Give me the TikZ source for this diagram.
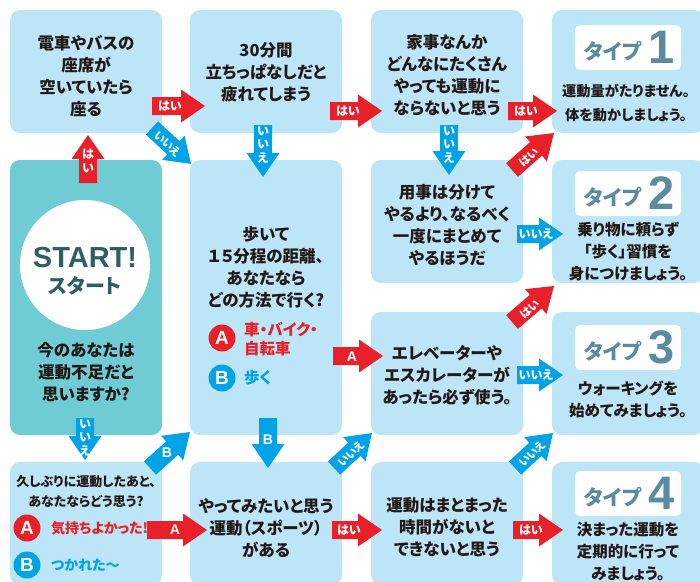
\documentclass[tikz,border=0pt]{standalone}
\usepackage{fontspec}
\newfontfamily\jp{Noto Sans CJK JP}[RawFeature=+palt]
\newfontfamily\lsans{Liberation Sans}
\definecolor{boxblue}{HTML}{BDE5F8}
\definecolor{startteal}{HTML}{6FCBD4}
\definecolor{ared}{HTML}{E8202A}
\definecolor{ablue}{HTML}{00A3E6}
\definecolor{ink}{HTML}{231815}
\definecolor{typeblue}{HTML}{5B8B9F}
\definecolor{startink}{HTML}{2D5F63}
\newcommand\blk[5]{%
  \pgfmathsetmacro\aang{atan2(-((#5)-(#3)),(#4)-(#2))}%
  \pgfmathsetmacro\alen{veclen((#4)-(#2),(#5)-(#3))}%
  \pgfmathsetmacro\abase{\alen-24}%
  \fill[#1, shift={(#2,#3)}, rotate=\aang] (0,-9) -- (\abase,-9) -- (\abase,-16.5) -- (\alen,0) -- (\abase,16.5) -- (\abase,9) -- (0,9) -- cycle;}
\tikzset{
  box/.style={fill=boxblue, rounded corners=10pt, minimum width=152pt, minimum height=123pt, inner sep=0pt},
  q/.style={font=\jp\bfseries\fontsize{16.5}{22}\selectfont, text=ink, align=center, inner sep=0pt},
  tt/.style={font=\jp\bfseries\fontsize{15.5}{22}\selectfont, text=ink, align=center, inner sep=0pt},
  lbl/.style={fill=white, rounded corners=5pt, minimum width=106pt, minimum height=45pt, inner sep=0pt},
  tword/.style={font=\jp\bfseries\fontsize{21}{21}\selectfont, text=typeblue, inner sep=0pt},
  tnum/.style={font=\lsans\bfseries\fontsize{47}{47}\selectfont, text=typeblue, inner sep=0pt},
  atxt/.style={font=\jp\bfseries\fontsize{12}{13.5}\selectfont, text=white, inner sep=0pt, align=center},
  dtxt/.style={font=\jp\bfseries\fontsize{11}{11}\selectfont, text=white, inner sep=0pt},
  aletter/.style={font=\lsans\bfseries\fontsize{14}{14}\selectfont, text=white, inner sep=0pt},
  opt/.style={circle, minimum size=27pt, inner sep=0pt, text=white, font=\lsans\bfseries\fontsize{19}{19}\selectfont},
}
\newcommand\typelabel[3]{%
  \node[lbl] (#3) at (628,#1) {};
  \node[tword] at (613,#1+3.5) {タイプ};
  \node[tnum] at (662,#1) {#2};}
\begin{document}
\begin{tikzpicture}[x=1pt,y=-1pt]
\useasboundingbox (0,0) rectangle (700,581);
\clip (0,0) rectangle (700,581);
% boxes
\node[box] (b11) at (86,71.5) {};
\node[box] (b12) at (266,71.5) {};
\node[box] (b13) at (447,71.5) {};
\node[box] (b14) at (628,71.5) {};
\node[box, fill=startteal, minimum height=275pt] (start) at (86,297.5) {};
\node[box, minimum height=275pt] (b22) at (266,297.5) {};
\node[box] (b23) at (447,221.5) {};
\node[box] (b24) at (628,221.5) {};
\node[box] (b33) at (447,373.5) {};
\node[box] (b34) at (628,373.5) {};
\node[box] (b41) at (86,523.5) {};
\node[box] (b42) at (266,523.5) {};
\node[box] (b43) at (447,523.5) {};
\node[box] (b44) at (628,523.5) {};
% start circle
\node[circle, fill=white, minimum size=130pt, inner sep=0pt] (sc) at (85,265) {};
\node[font=\lsans\bfseries\fontsize{29}{29}\selectfont, text=startink, inner sep=0pt] at (85,258) {START!};
\node[font=\jp\bfseries\fontsize{20}{20}\selectfont, text=startink, inner sep=0pt] at (85,286) {スタート};
\node[q] at (86,372) {今のあなたは\\運動不足だと\\思いますか?};
% question texts
\node[q] at (86,76) {電車やバスの\\座席が\\空いていたら\\座る};
\node[q] at (266,72.5) {30分間\\立ちっぱなしだと\\疲れてしまう};
\node[q] at (447,75) {家事なんか\\どんなにたくさん\\やっても運動に\\ならないと思う};
\node[q] at (447,225) {用事は分けて\\やるより、なるべく\\一度にまとめて\\やるほうだ};
\node[q] at (447,375) {エレベーターや\\エスカレーターが\\あったら必ず使う。};
\node[q] at (266,267.5) {歩いて\\１５分程の距離、\\あなたなら\\どの方法で行く?};
\node[q] at (266,528) {やってみたいと思う\\運動（スポーツ）\\がある};
\node[q] at (447,527) {運動はまとまった\\時間がないと\\できないと思う};
\node[q, font=\jp\bfseries\fontsize{13}{20}\selectfont] at (86,492) {久しぶりに運動したあと、\\あなたならどう思う?};
% options
\node[opt, fill=ared] (oa1) at (222,338) {A};
\node[q, text=ared, align=left, anchor=west, font=\jp\bfseries\fontsize{15.5}{19}\selectfont] at (244,339) {車・バイク・\\自転車};
\node[opt, fill=ablue] (ob1) at (222,378) {B};
\node[q, text=ablue, anchor=west, font=\jp\bfseries\fontsize{15.5}{19}\selectfont] at (244,378) {歩く};
\node[opt, fill=ared] (oa2) at (27,528) {A};
\node[q, text=ared, anchor=west, font=\jp\bfseries\fontsize{14}{20}\selectfont] at (51,528) {気持ちよかった!};
\node[opt, fill=ablue] (ob2) at (27,565) {B};
\node[q, text=ablue, anchor=west, font=\jp\bfseries\fontsize{14}{20}\selectfont] at (51,565) {つかれた〜};
% type boxes
\typelabel{47.5}{1}{l1}
\node[tt, font=\jp\bfseries\fontsize{14.2}{24}\selectfont] at (626,103) {運動量がたりません。\\体を動かしましょう。};
\typelabel{193.5}{2}{l2}
\node[tt] at (628,252) {乗り物に頼らず\\「歩く」習慣を\\身につけましょう。};
\typelabel{347.5}{3}{l3}
\node[tt] at (628,399) {ウォーキングを\\始めてみましょう。};
\typelabel{493.5}{4}{l4}
\node[tt] at (628,552) {決まった運動を\\定期的に行って\\みましょう。};
% arrows
\blk{ared}{88}{183}{88}{135}
\node[atxt] at (88,161) {は\\い};
\blk{ablue}{85}{418}{85}{460}
\node[atxt] at (85,438) {い\\い\\え};
\blk{ared}{152}{106}{205}{106}
\node[atxt] at (170,106) {はい};
\blk{ablue}{152}{128}{191}{164}
\node[dtxt, rotate=-43] at (168,144) {いいえ};
\blk{ablue}{263}{125}{263}{177}
\node[atxt] at (263,145) {い\\い\\え};
\blk{ared}{330}{111}{382}{111}
\node[atxt] at (348,111) {はい};
\blk{ared}{508}{111}{557}{111}
\node[atxt] at (526,111) {はい};
\blk{ablue}{449}{125}{449}{175}
\node[atxt] at (449,145) {い\\い\\え};
\blk{ared}{512}{170}{554}{133}
\node[dtxt, rotate=41] at (529,157) {はい};
\blk{ablue}{517}{234}{563}{234}
\node[atxt] at (536,234) {いいえ};
\blk{ared}{512}{322}{554}{286}
\node[dtxt, rotate=41] at (530,309) {はい};
\blk{ablue}{517}{375}{563}{375}
\node[atxt] at (536,375) {いいえ};
\blk{ared}{333}{356}{383}{356}
\node[aletter] at (352,357) {A};
\blk{ablue}{268}{418}{268}{468}
\node[aletter] at (268,440) {B};
\blk{ablue}{150}{468}{190}{432}
\node[aletter] at (167,453) {B};
\blk{ared}{147}{530}{207}{530}
\node[aletter] at (175,530) {A};
\blk{ablue}{334}{468}{372}{433}
\node[dtxt, rotate=42] at (351,454) {いいえ};
\blk{ared}{332}{530}{382}{530}
\node[atxt] at (349,530) {はい};
\blk{ablue}{515}{468}{553}{433}
\node[dtxt, rotate=42] at (532,454) {いいえ};
\blk{ared}{513}{530}{563}{530}
\node[atxt] at (531,530) {はい};
\end{tikzpicture}
\end{document}
